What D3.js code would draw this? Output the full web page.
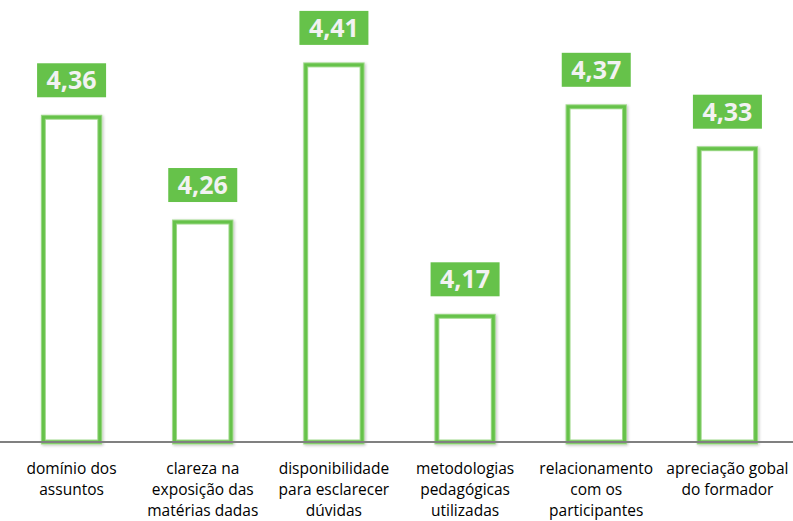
<!DOCTYPE html>
<html>
<head>
<meta charset="utf-8">
<script src="https://cdn.jsdelivr.net/npm/d3@7"></script>
<style>
  body { margin: 0; background: #fff; }
  svg { display: block; }
</style>
</head>
<body>
<svg width="793" height="521"></svg>
<script>
// chart data
var categories = ["domínio dos assuntos", "clareza na exposição das matérias dadas", "disponibilidade para esclarecer dúvidas", "metodologias pedagógicas utilizadas", "relacionamento com os participantes", "apreciação gobal do formador"];
var categoryLines = [
    ["domínio dos", "assuntos"],
    ["clareza na", "exposição das", "matérias dadas"],
    ["disponibilidade", "para esclarecer", "dúvidas"],
    ["metodologias", "pedagógicas", "utilizadas"],
    ["relacionamento", "com os", "participantes"],
    ["apreciação gobal", "do formador"]
];
var scores = [4.36, 4.26, 4.41, 4.17, 4.37, 4.33];

var svg = d3.select("svg"),
    width = +svg.attr("width"),
    height = +svg.attr("height"),
    baseline = 442,
    green = "#66c24a";

var x = d3.scaleBand()
    .domain(categories)
    .range([6, 793])
    .paddingInner(0.57)
    .paddingOuter(0.285);

var y = d3.scaleLinear()
    .domain([4.05, 4.45])
    .range([baseline, 23]);

var fmt = function (v) { return d3.format(".2f")(v).replace(".", ","); };

// soft shadow for bars
var defs = svg.append("defs");
var f = defs.append("filter").attr("id", "sh").attr("x", "-20%").attr("y", "-20%").attr("width", "140%").attr("height", "140%");
f.append("feGaussianBlur").attr("in", "SourceAlpha").attr("stdDeviation", 1.5);
f.append("feOffset").attr("dx", 1).attr("dy", 1).attr("result", "b");
f.append("feComponentTransfer").append("feFuncA").attr("type", "linear").attr("slope", 0.25);
var m = f.append("feMerge");
m.append("feMergeNode");
m.append("feMergeNode").attr("in", "SourceGraphic");

var bars = svg.append("g");

categories.forEach(function (c, i) {
    var bx = x(c), bw = x.bandwidth(), top = y(scores[i]);

    bars.append("rect")
        .attr("x", bx)
        .attr("y", top)
        .attr("width", bw)
        .attr("height", baseline - top)
        .attr("fill", "#fff")
        .attr("stroke", "#9fd98a")
        .attr("stroke-width", 5)
        .attr("filter", "url(#sh)");

    bars.append("rect")
        .attr("x", bx)
        .attr("y", top)
        .attr("width", bw)
        .attr("height", baseline - top)
        .attr("fill", "none")
        .attr("stroke", green)
        .attr("stroke-width", 3);

    // value label box
    var cx = bx + bw / 2;
    bars.append("rect")
        .attr("x", cx - 34.5)
        .attr("y", top - 54)
        .attr("width", 69)
        .attr("height", 34)
        .attr("fill", green);

    bars.append("text")
        .attr("x", cx)
        .attr("y", top - 28)
        .attr("text-anchor", "middle")
        .attr("fill", "#f2f2f2")
        .attr("font-family", "'Open Sans', sans-serif")
        .attr("font-weight", "bold")
        .attr("font-size", "25px")
        .text(fmt(scores[i]));
});

// axis line
svg.append("line")
    .attr("x1", 0)
    .attr("x2", width)
    .attr("y1", baseline)
    .attr("y2", baseline)
    .attr("stroke", "#808080")
    .attr("stroke-width", 2);

// category labels
categories.forEach(function (c, i) {
    var t = svg.append("text")
        .attr("x", x(c) + x.bandwidth() / 2)
        .attr("y", 474)
        .attr("text-anchor", "middle")
        .attr("fill", "#000")
        .attr("font-family", "'Open Sans', sans-serif")
        .attr("font-size", "15.5px");
    categoryLines[i].forEach(function (line, j) {
        t.append("tspan")
            .attr("x", x(c) + x.bandwidth() / 2)
            .attr("dy", j == 0 ? 0 : 21)
            .text(line);
    });
});
</script>
</body>
</html>
